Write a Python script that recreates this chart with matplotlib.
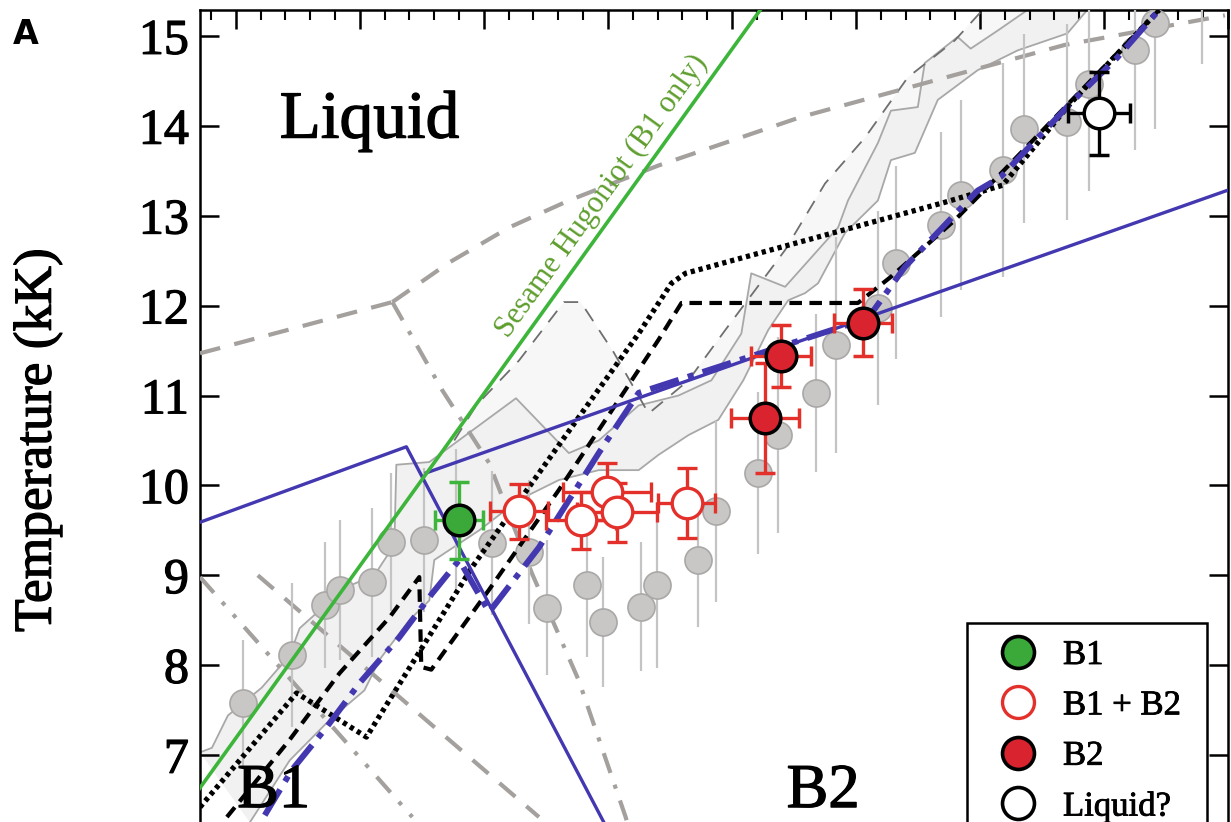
import matplotlib
matplotlib.use("Agg")
import matplotlib.pyplot as plt
from matplotlib.lines import Line2D
from matplotlib.patches import Rectangle
import matplotlib.patheffects as pe

# ---------------- data (pressure in GPa, temperature in kK) ----------------
sesame_P = [250.0, 740.0]
sesame_T = [6.23, 15.62]

blue_b1melt_P = [271.1, 437.5, 606.3]
blue_b1melt_T = [9.59, 10.43, 6.00]
blue_b2melt_P = [453.6, 1105.0]
blue_b2melt_T = [10.14, 13.31]

blue_hug_P = [323.3, 345.0, 373.2, 399.7, 431.8, 458.4, 480.1, 504.2, 544.4, 592.6,
              624.8, 809.7, 839.4, 898.1, 916.6, 972.9, 1010.7, 1044.4]
blue_hug_T = [6.33, 6.83, 7.31, 7.80, 8.31, 8.80, 9.17, 8.59, 9.31, 10.36,
              11.03, 11.86, 12.43, 13.28, 13.43, 14.25, 14.76, 15.29]

dash_hug_P = [292.8, 343.4, 383.6, 423.8, 447.9, 449.5, 457.6, 504.2, 560.5, 608.7,
              640.8, 659.3, 801.6, 828.1, 879.6, 918.2, 1044.4]
dash_hug_T = [6.31, 7.17, 7.91, 8.53, 8.98, 7.98, 7.95, 8.84, 9.95, 10.95,
              11.62, 12.03, 12.03, 12.32, 12.95, 13.49, 15.29]

dot_hug_P = [271.1, 349.0, 405.3, 490.5, 560.5, 624.8, 651.3, 662.6, 871.6, 918.2,
             972.9, 1044.4]
dot_hug_T = [6.42, 7.69, 7.20, 9.09, 10.45, 11.69, 12.25, 12.36, 13.15, 13.34,
             14.25, 15.29]

gray_b1melt_P = [271.1, 426.2]
gray_b1melt_T = [11.47, 12.04]
gray_b1b2_P = [426.2, 466.4, 504.2, 538.8, 576.5, 614.3, 620.8]
gray_b1b2_T = [12.04, 11.06, 10.25, 9.02, 7.83, 6.31, 6.00]
gray_b2melt_P = [426.2, 472.0, 520.3, 568.5, 640.8, 755.8, 968.0, 1097.5]
gray_b2melt_T = [12.04, 12.48, 12.87, 13.17, 13.56, 14.10, 14.90, 15.23]

gray_low1_P = [317.7, 544.4]
gray_low1_T = [9.00, 6.31]
gray_low2_P = [271.1, 442.3]
gray_low2_T = [8.98, 6.31]

# solid-bounded band
band_upper_P = [271.1, 280.7, 293.6, 320.9, 343.4, 351.4, 387.6, 411.7, 427.8, 429.4,
                456.0, 525.9, 568.5, 592.6, 624.8, 656.9, 683.5, 707.6, 715.6, 742.9,
                785.6, 793.6, 817.7, 828.2, 849.9, 855.5, 882.0, 892.5, 914.2, 938.3]
band_upper_T = [7.03, 7.08, 7.44, 7.75, 8.11, 8.41, 8.86, 9.00, 9.34, 10.23,
                10.26, 10.97, 10.36, 10.50, 10.89, 11.00, 11.17, 11.69, 12.36, 12.21,
                12.87, 13.17, 13.81, 14.17, 14.21, 14.70, 14.99, 14.86, 15.06, 15.29]
band_lower_P = [311.3, 343.4, 375.6, 403.7, 415.8, 439.9, 456.0, 460.0, 496.2, 528.3,
                560.5, 592.6, 624.8, 640.8, 665.0, 689.1, 709.2, 729.3, 745.4, 759.0,
                769.5, 791.2, 817.7, 828.2, 847.5, 866.0, 898.1, 930.3, 970.5, 986.5]
band_lower_T = [6.25, 6.94, 7.39, 7.72, 8.06, 8.50, 8.72, 9.17, 9.50, 9.84,
                10.06, 10.17, 10.17, 10.34, 10.56, 10.73, 11.17, 11.73, 12.06, 12.14,
                12.25, 12.81, 13.17, 13.62, 13.70, 14.29, 14.62, 14.84, 15.03, 15.29]
# dashed-bounded (lighter) band edge
band_dash_P = [476.1, 493.8, 528.3, 564.5, 578.1, 604.7, 632.8, 665.0, 694.7, 742.9,
               775.1, 807.3, 841.8, 879.6, 902.1]
band_dash_T = [10.50, 10.89, 11.39, 12.04, 12.04, 11.48, 10.80, 11.17, 11.73, 12.62,
               13.36, 13.87, 14.54, 14.95, 15.29]

calc_P = [305.6, 345.0, 371.5, 383.6, 410.1, 425.4, 451.9, 477.7, 506.6, 536.3,
          550.8, 583.0, 595.8, 626.4, 639.2, 673.0, 687.5, 721.2, 737.3, 767.9,
          784.0, 817.7, 832.2, 868.4, 884.4, 918.2, 935.9, 970.5, 988.2, 1025.1,
          1041.2, 1079.0]
calc_T = [7.58, 8.11, 8.67, 8.84, 8.92, 9.37, 9.39, 9.61, 9.36, 9.26,
          8.64, 8.89, 8.48, 8.65, 8.89, 9.17, 9.71, 10.14, 10.56, 11.03,
          11.56, 11.97, 12.48, 12.90, 13.23, 13.51, 13.97, 14.04, 14.47, 14.84,
          15.15, 15.84]
calc_err = [0.70, 0.80, 0.70, 0.78, 0.83, 0.77, 0.80, 0.80, 0.80, 0.80,
            0.75, 0.80, 0.72, 0.72, 0.92, 0.75, 1.01, 0.90, 1.09, 0.88,
            1.20, 1.08, 1.07, 1.03, 1.06, 1.19, 1.05, 1.09, 1.19, 1.11,
            1.18, 1.15]

b1_P, b1_T, b1_xe, b1_ye = [480.1], [9.61], [19.3], [0.43]
mix_P = [528.3, 578.1, 599.0, 607.1, 663.4]
mix_T = [9.71, 9.61, 9.93, 9.70, 9.80]
mix_xe = [23.3, 28.1, 35.4, 32.2, 23.3]
mix_ye = [0.31, 0.32, 0.32, 0.33, 0.39]
b2_P = [726.9, 739.7, 805.6]
b2_T = [10.75, 11.44, 11.81]
b2_xe = [27.3, 24.1, 23.3]
b2_ye = [0.61, 0.34, 0.37]
liq_P, liq_T, liq_xe, liq_ye = [996.2], [14.14], [24.9], [0.46]

yticks = [7, 8, 9, 10, 11, 12, 13, 14, 15]
legend_labels = ["B1", "B1 + B2", "B2", "Liquid?"]

# ---------------- figure ----------------
W, H = 1231, 822
fig = plt.figure(figsize=(W / 100, H / 100), dpi=100)
left_px, right_px, top_px = 200, 1228, 10
x0, x1 = 271.1, 1097.5
y0, y1 = 6.0, 15.29
bottom_px = 755 + (7 - y0) * 89.9
ax_w, ax_h = right_px - left_px, bottom_px - top_px
ax = fig.add_axes([left_px / W, 1 - bottom_px / H, ax_w / W, ax_h / H])
ax.set_xlim(x0, x1)
ax.set_ylim(y0, y1)

serif = ["Liberation Serif", "DejaVu Serif"]
bold_fx = [pe.withStroke(linewidth=0.9, foreground="black")]
GRAY = "#a3a09e"
BLUE = "#4338b0"
GREEN = "#3db53a"

# bands
light_P = band_dash_P + band_lower_P[::-1][:22]
light_T = band_dash_T + band_lower_T[::-1][:22]
ax.fill(light_P, light_T, color="#f7f7f7", lw=0, zorder=1)
poly_P = band_upper_P + band_lower_P[::-1]
poly_T = band_upper_T + band_lower_T[::-1]
ax.fill(poly_P, poly_T, color="#f1f1f1", lw=0, zorder=1)
ax.plot(band_upper_P, band_upper_T, color="#a8a8a8", lw=1.3, zorder=2)
ax.plot(band_lower_P, band_lower_T, color="#a8a8a8", lw=1.3, zorder=2)
ax.plot(band_dash_P, band_dash_T, color="#6f6f6f", lw=1.3, ls=(0, (8, 6)), zorder=2)

# gray model lines
ax.plot(gray_b1melt_P, gray_b1melt_T, color=GRAY, lw=3, ls=(0, (5, 3.5)), zorder=3)
ax.plot(gray_b1b2_P, gray_b1b2_T, color=GRAY, lw=3, ls=(0, (5, 3, 1, 3)), zorder=3)
ax.plot(gray_b2melt_P, gray_b2melt_T, color=GRAY, lw=3, ls=(0, (5, 3.5)), zorder=3)
ax.plot(gray_low1_P, gray_low1_T, color=GRAY, lw=3, ls=(0, (5, 3.5)), zorder=3)
ax.plot(gray_low2_P, gray_low2_T, color=GRAY, lw=3, ls=(0, (5, 3, 1, 3, 1, 3)), zorder=3)

# calculated points (gray)
ax.errorbar(calc_P, calc_T, yerr=calc_err, fmt="o", ms=19.5, mfc="#c9c7c6",
            mec="#aaa8a7", mew=1.2, ecolor="#c4c4c4", elinewidth=1.6, capsize=0,
            zorder=4)

# hugoniot curves
ax.plot(dot_hug_P, dot_hug_T, color="black", lw=3.8, ls=(0, (0.8, 0.75)), zorder=5)
ax.plot(dash_hug_P, dash_hug_T, color="black", lw=3.0, ls=(0, (3, 1.8)), zorder=5)
ax.plot(blue_hug_P, blue_hug_T, color=BLUE, lw=4.3, ls=(0, (5, 1.6, 1, 1.6)), zorder=6)

# blue solid phase lines
ax.plot(blue_b1melt_P, blue_b1melt_T, color=BLUE, lw=2.4, zorder=6)
ax.plot(blue_b2melt_P, blue_b2melt_T, color=BLUE, lw=2.4, zorder=6)

# sesame hugoniot
ax.plot(sesame_P, sesame_T, color=GREEN, lw=2.6, zorder=6)
ax.text(595.5, 13.22, "Sesame Hugoniot (B1 only)", rotation=54.2, color="#5e9e2e",
        fontsize=22, family=serif, ha="center", va="center", zorder=6,
        rotation_mode="anchor")

# experimental points
ax.errorbar(b1_P, b1_T, xerr=b1_xe, yerr=b1_ye, fmt="o", ms=22, mfc="#3aa93a",
            mec="black", mew=2.5, ecolor=GREEN, elinewidth=2.4, capsize=7,
            capthick=2.4, zorder=8)
ax.errorbar(mix_P, mix_T, xerr=mix_xe, yerr=mix_ye, fmt="o", ms=22, mfc="white",
            mec="#e3302b", mew=2.4, ecolor="#e3302b", elinewidth=2.4, capsize=7,
            capthick=2.4, zorder=8)
ax.errorbar(b2_P, b2_T, xerr=b2_xe, yerr=b2_ye, fmt="o", ms=22, mfc="#d9232f",
            mec="black", mew=2.5, ecolor="#e3302b", elinewidth=2.4, capsize=7,
            capthick=2.4, zorder=8)
ax.errorbar(liq_P, liq_T, xerr=liq_xe, yerr=liq_ye, fmt="o", ms=22, mfc="white",
            mec="black", mew=2.5, ecolor="black", elinewidth=2.4, capsize=7,
            capthick=2.4, zorder=8)

# region labels
ax.text(407.7, 13.87, "Liquid", fontsize=48.5, family=serif, ha="center",
        va="baseline", path_effects=bold_fx)
ax.text(330.5, 6.265, "B1", fontsize=45, family=serif, ha="center", va="bottom",
        path_effects=bold_fx, zorder=7)
ax.text(773.5, 6.265, "B2", fontsize=45, family=serif, ha="center", va="bottom",
        path_effects=bold_fx, zorder=7)

# axes styling
ax.set_yticks(yticks)
ax.set_yticklabels([str(v) for v in yticks], family=serif, fontsize=36)
for t in ax.get_yticklabels():
    t.set_path_effects(bold_fx)
ax.set_xticks(range(300, 1101, 100))
ax.set_xticks(range(280, 1100, 20), minor=True)
ax.tick_params(axis="y", which="major", direction="in", length=14, width=1.8,
               left=True, right=True, pad=8)
ax.tick_params(axis="x", which="major", direction="in", length=14, width=1.8,
               top=True, bottom=False, labelbottom=False, labeltop=False)
ax.tick_params(axis="x", which="minor", direction="in", length=7, width=1.5,
               top=True, bottom=False)
for s in ax.spines.values():
    s.set_linewidth(1.8)
ax.set_ylabel("Temperature (kK)", family=serif, fontsize=38.5, path_effects=bold_fx)
ax.yaxis.set_label_coords((62 - left_px) / ax_w, 1 - (440 - top_px) / ax_h)

fig.text(26 / W, 1 - 34 / H, "A", fontsize=24, fontweight="bold",
         family="DejaVu Sans", ha="center", va="center")

# legend
frame = Rectangle((967 / W, 1 - 860 / H), (1207 - 967) / W, (860 - 623) / H,
                  transform=fig.transFigure, facecolor="white", edgecolor="black",
                  lw=1.8, zorder=9)
fig.patches.append(frame)
handles = [
    Line2D([], [], ls="none", marker="o", ms=23, mfc="#3aa93a", mec="black", mew=2.6),
    Line2D([], [], ls="none", marker="o", ms=23, mfc="white", mec="#e3302b", mew=2.4),
    Line2D([], [], ls="none", marker="o", ms=23, mfc="#d9232f", mec="black", mew=2.6),
    Line2D([], [], ls="none", marker="o", ms=23, mfc="white", mec="black", mew=2.6),
]
leg = fig.legend(handles, legend_labels, loc="upper left",
                 bbox_to_anchor=(997 / W, 1 - 639 / H),
                 prop={"family": serif, "size": 25}, frameon=False,
                 borderpad=0, labelspacing=0.5, handletextpad=0.7,
                 handlelength=1.2, borderaxespad=0)
leg.set_zorder(10)
for t in leg.get_texts():
    t.set_path_effects([pe.withStroke(linewidth=0.6, foreground="black")])

fig.savefig("out.png", dpi=100)
